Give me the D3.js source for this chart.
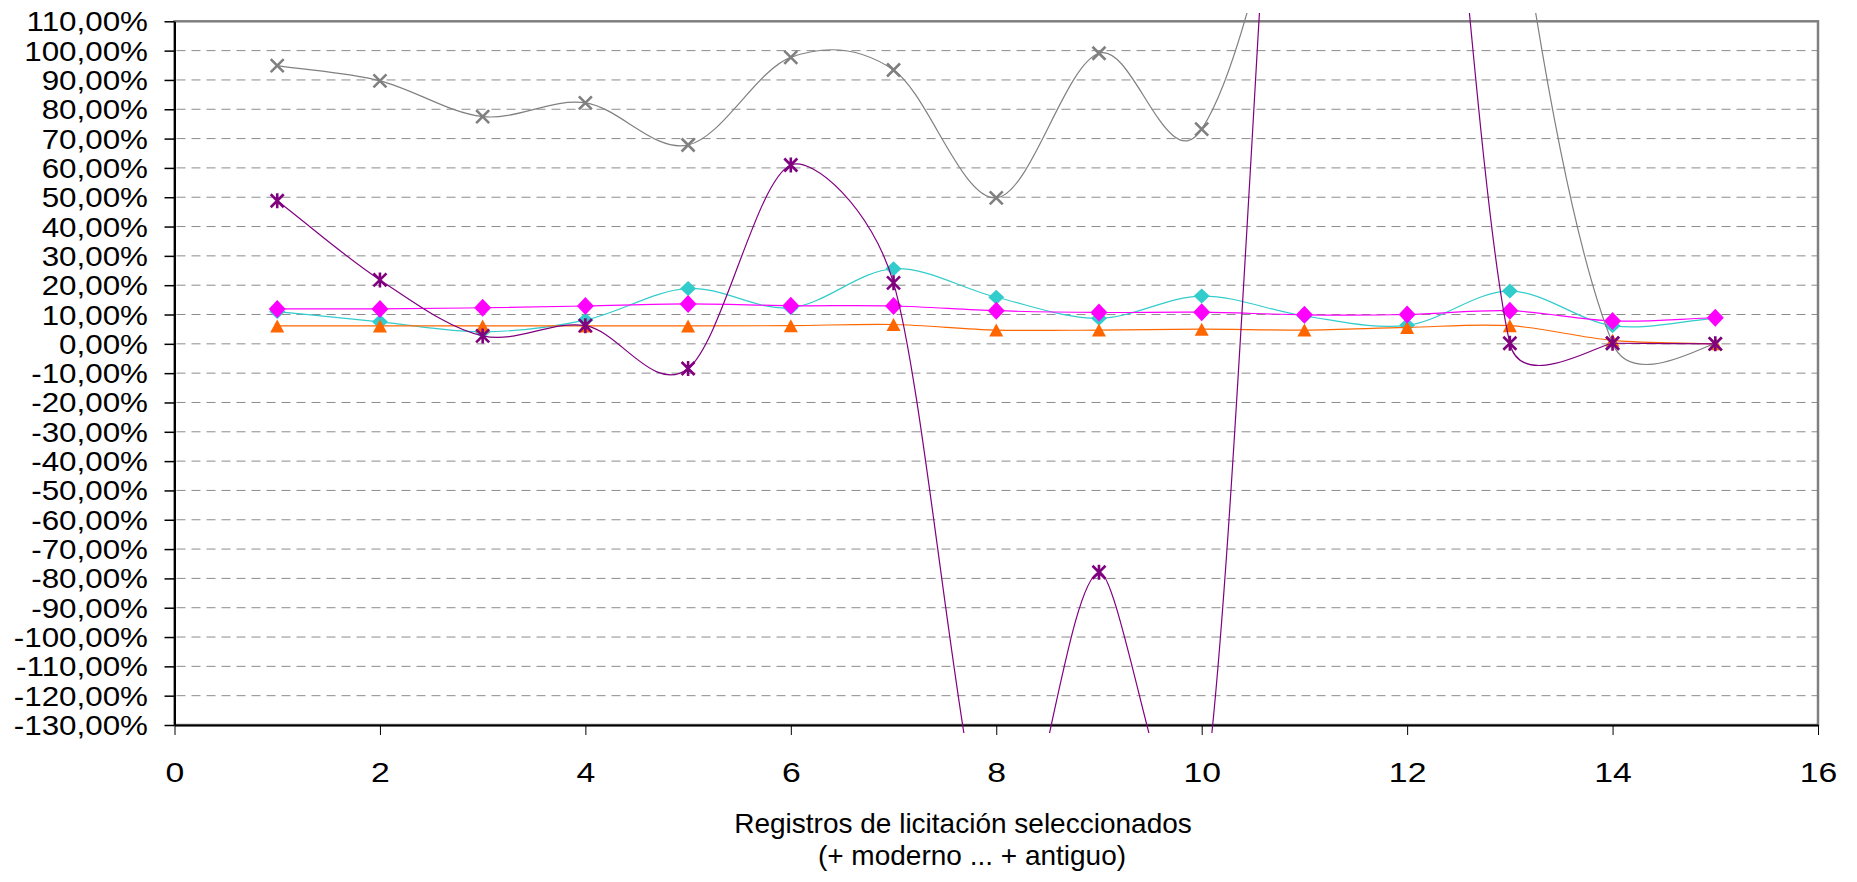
<!DOCTYPE html>
<html><head><meta charset="utf-8">
<script src="https://cdn.jsdelivr.net/npm/d3@7/dist/d3.min.js"></script>
<style>
html,body{margin:0;padding:0;background:#fff;}
svg{display:block;font-family:"Liberation Sans",Arial,sans-serif;}
</style></head><body>
<svg id="chart" width="1857" height="882"></svg>
<script>
const registros = [1,2,3,4,5,6,7,8,9,10,11,12,13,14,15];
const serieTurquesa = [11.0, 7.5, 4.1, 8.1, 18.9, 12.3, 25.6, 15.9, 8.7, 16.3, 9.5, 6.3, 18.0, 6.2, 8.7];
const serieNaranja  = [6.1, 6.1, 6.1, 6.1, 6.1, 6.2, 6.6, 4.7, 4.7, 5.0, 4.7, 5.6, 6.2, 1.2, 0.0];
const serieMagenta  = [11.9, 11.9, 12.3, 12.9, 13.6, 13.0, 12.9, 11.3, 10.7, 10.8, 9.9, 10.0, 11.3, 7.8, 8.9];
const serieGris     = [94.9, 89.7, 77.5, 82.2, 67.8, 97.7, 93.4, 49.8, 99.1, 73.2, 206, 512, 172, 0.2, 0.0];
const seriePurpura  = [48.8, 21.8, 2.7, 6.2, -8.4, 61.0, 20.8, -179, -77.9, -160, 319, 307, 0.2, 0.2, 0.0];
const xTicks = [0,2,4,6,8,10,12,14,16];
const yTicks = [-130,-120,-110,-100,-90,-80,-70,-60,-50,-40,-30,-20,-10,0,10,20,30,40,50,60,70,80,90,100,110];
const tituloX = ["Registros de licitación seleccionados", "(+ moderno ... + antiguo)"];

const svg = d3.select('#chart');
const x = d3.scaleLinear().domain([0,16]).range([174.5,1818]);
const y = d3.scaleLinear().domain([-130,110]).range([725,21.3]);

// Excel-style smoothed line (Bezier with limited control-point distance)
function excelSegments(pts){
  const n=pts.length, segs=[];
  const dist=(a,b)=>Math.hypot(a[0]-b[0],a[1]-b[1]);
  for(let i=0;i<n-1;i++){
    const p1=pts[i], p2=pts[i+1];
    const p0 = i>0?pts[i-1]:p1, p3 = i+2<n?pts[i+2]:p2;
    const d12=dist(p1,p2), d02=dist(p0,p2), d13=dist(p1,p3);
    let f,g;
    const a = d02/6>=d12/2, b = d13/6>=d12/2;
    if(!a && !b){ f = i>0?1/6:1/3; g = i+2<n?1/6:1/3; }
    else if(a&&b){ f=d12/d02/2; g=d12/d13/2; }
    else if(a){ f=g=d12/d02/2; }
    else { f=g=d12/d13/2; }
    segs.push([p1,[p1[0]+(p2[0]-p0[0])*f,p1[1]+(p2[1]-p0[1])*f],[p2[0]-(p3[0]-p1[0])*g,p2[1]-(p3[1]-p1[1])*g],p2]);
  }
  return segs;
}
function curveExcel(context){
  let pts;
  return {
    areaStart(){}, areaEnd(){},
    lineStart(){pts=[];},
    point(a,b){pts.push([+a,+b]);},
    lineEnd(){
      if(!pts.length) return;
      context.moveTo(pts[0][0],pts[0][1]);
      for(const s of excelSegments(pts)) context.bezierCurveTo(s[1][0],s[1][1],s[2][0],s[2][1],s[3][0],s[3][1]);
    }
  };
}

const fmt = v => v.toFixed(2).replace('.',',') + '%';
svg.append('g').selectAll('line').data(yTicks.filter(v=>v>-130&&v<110)).join('line')
  .attr('x1',x(0)+2).attr('x2',x(16)).attr('y1',d=>y(d)).attr('y2',d=>y(d))
  .attr('stroke','#8c8c8c').attr('stroke-width',1).attr('stroke-dasharray','9,6');
svg.append('rect').attr('x',x(0)).attr('y',y(110)).attr('width',x(16)-x(0)).attr('height',y(-130)-y(110))
  .attr('fill','none').attr('stroke','#808080').attr('stroke-width',2.5);
const gy = svg.append('g').attr('transform',`translate(${x(0)},0)`)
  .call(d3.axisLeft(y).tickValues(yTicks).tickSize(10).tickSizeOuter(0).tickFormat(fmt));
gy.select('.domain').attr('stroke','#000').attr('stroke-width',2);
gy.selectAll('.tick line').attr('stroke','#000').attr('stroke-width',1.5);
gy.selectAll('.tick text').attr('x',0).attr('dy',null).attr('transform','translate(-26.5,9.5) scale(1.12,1)')
  .attr('font-size',28).attr('fill','#000').attr('font-family','"Liberation Sans",Arial,sans-serif');
const gx = svg.append('g').attr('transform',`translate(0,${y(-130)})`)
  .call(d3.axisBottom(x).tickValues(xTicks).tickSize(10).tickSizeOuter(0));
gx.select('.domain').attr('stroke','#000').attr('stroke-width',2);
gx.selectAll('.tick line').attr('stroke','#000').attr('stroke-width',1);
gx.selectAll('.tick text').attr('y',0).attr('dy',null).attr('transform','translate(0,56.7) scale(1.25,1)')
  .attr('font-size',27).attr('fill','#000').attr('font-family','"Liberation Sans",Arial,sans-serif');
svg.append('text').attr('x',963).attr('y',833.3).attr('text-anchor','middle').attr('font-size',28).text(tituloX[0]);
svg.append('text').attr('x',972).attr('y',865).attr('text-anchor','middle').attr('font-size',28).text(tituloX[1]);

svg.append('clipPath').attr('id','clip').append('rect').attr('x',166).attr('y',13).attr('width',1660).attr('height',720);
const plot = svg.append('g').attr('clip-path','url(#clip)');
const line = d3.line().x((d,i)=>x(registros[i])).y(d=>y(d)).curve(curveExcel);
const shapes = {
  diamondS: 'M0,-7.5L8,0L0,7.5L-8,0Z',
  diamondL: 'M0,-9L8.5,0L0,9L-8.5,0Z',
  triangle: 'M0,-6.5L7,6.5L-7,6.5Z',
  cross: 'M-6.5,-6.5L6.5,6.5M-6.5,6.5L6.5,-6.5',
  star: 'M-6.5,-6.5L6.5,6.5M-6.5,6.5L6.5,-6.5M0,-7.5L0,7.5'
};
const series = [
  {vals:serieTurquesa, color:'#33CCCC', shape:'diamondS', fill:true},
  {vals:serieNaranja, color:'#FF6600', shape:'triangle', fill:true},
  {vals:serieMagenta, color:'#FF00FF', shape:'diamondL', fill:true},
  {vals:serieGris, color:'#808080', shape:'cross', fill:false},
  {vals:seriePurpura, color:'#800080', shape:'star', fill:false}
];
for(const s of series){
  const g = plot.append('g');
  g.append('path').attr('d',line(s.vals)).attr('fill','none').attr('stroke',s.color).attr('stroke-width',1.2);
  g.selectAll('path.m').data(s.vals.map((v,i)=>[registros[i],v]).filter(d=>d[1]>=-130&&d[1]<=110)).join('path')
    .attr('class','m').attr('transform',d=>`translate(${x(d[0])},${y(d[1])})`).attr('d',shapes[s.shape])
    .attr('fill',s.fill?s.color:'none').attr('stroke',s.fill?'none':s.color).attr('stroke-width',2.6);
}
</script></body></html>
